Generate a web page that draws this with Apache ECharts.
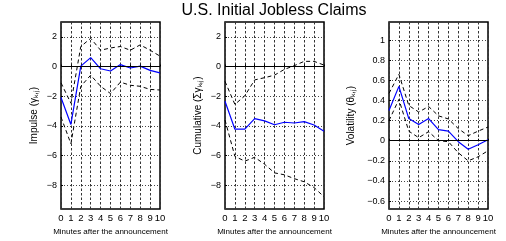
<!DOCTYPE html>
<html>
<head>
<meta charset="utf-8">
<script src="https://cdn.jsdelivr.net/npm/echarts@6/dist/echarts.min.js"></script>
<style>
  html, body { margin: 0; padding: 0; background: #fff; }
  #main { width: 506px; height: 241px; }
</style>
</head>
<body>
<div id="main"></div>
<script>
var minutes = [0, 1, 2, 3, 4, 5, 6, 7, 8, 9, 10];

// impulse response and bands
var impulse   = [-2.08, -3.9, 0.03, 0.6, -0.15, -0.3, 0.13, -0.1, 0.03, -0.26, -0.43];
var impulseUp = [-1.1, -2.47, 1.35, 1.9, 1.1, 1.25, 1.35, 1.1, 1.46, 1.1, 0.7];
var impulseLo = [-3.4, -5.2, -1.33, -0.58, -1.33, -1.82, -1.05, -1.26, -1.33, -1.54, -1.58];

// cumulative
var cumul   = [-2.34, -4.22, -4.22, -3.51, -3.66, -3.92, -3.75, -3.8, -3.71, -3.94, -4.35];
var cumulUp = [-1.0, -2.55, -1.97, -0.9, -0.75, -0.58, -0.19, 0.06, 0.35, 0.35, 0.1];
var cumulLo = [-3.6, -6.05, -6.37, -6.11, -6.58, -7.16, -7.29, -7.55, -7.76, -8.15, -8.77];

// volatility
var vol   = [0.3, 0.54, 0.22, 0.16, 0.22, 0.11, 0.095, -0.01, -0.085, -0.04, 0.01];
var volUp = [0.47, 0.66, 0.35, 0.285, 0.34, 0.247, 0.216, 0.12, 0.05, 0.095, 0.136];
var volLo = [0.2, 0.41, 0.095, 0.03, 0.09, 0.0, -0.01, -0.12, -0.2, -0.16, -0.1];

var ticksA = [-8, -6, -4, -2, 0, 2];
var ticksB = [-0.6, -0.4, -0.2, 0, 0.2, 0.4, 0.6, 0.8, 1];

var FONT = 'Liberation Sans';

function fmt(v) {
  var s = Math.abs(v) < 1e-9 ? '0' : String(Math.round(v * 10) / 10);
  return s.replace('-', '\u2212');
}

var panels = [
  { left: 61, name: 'Impulse (\u03b3\u2096,\u2c7c)', min: -9.6, max: 3, ticks: ticksA, gap: 22,
    mid: impulse, up: impulseUp, lo: impulseLo },
  { left: 225, name: 'Cumulative (\u03a3\u03b3\u2096,\u2c7c)', min: -9.6, max: 3, ticks: ticksA, gap: 22,
    mid: cumul, up: cumulUp, lo: cumulLo },
  { left: 389, name: 'Volatility (\u03b8\u2096,\u2c7c)', min: -0.68, max: 1.18, ticks: ticksB, gap: 33,
    mid: vol, up: volUp, lo: volLo }
];

var grid = [], xAxis = [], yAxis = [], series = [];

panels.forEach(function (p, i) {
  grid.push({ left: p.left, top: 22, width: 99, height: 196, show: true,
    borderColor: '#000', borderWidth: 1.5, backgroundColor: 'transparent' });
  xAxis.push({
    gridIndex: i, type: 'value', min: 0, max: 10, interval: 1,
    name: 'Minutes after the announcement', nameLocation: 'middle', nameGap: 16,
    nameTextStyle: { fontFamily: FONT, fontSize: 8, color: '#000' },
    axisLine: { show: false },
    axisTick: { show: true, inside: true, length: 2, lineStyle: { color: '#000' } },
    axisLabel: { fontFamily: FONT, fontSize: 9.5, color: '#000', margin: 4 },
    splitLine: { show: true, lineStyle: { color: '#333', type: [2.5, 2], width: 1 } }
  });
  yAxis.push({
    gridIndex: i, type: 'value', min: p.min, max: p.max,
    name: p.name, nameLocation: 'middle', nameGap: p.gap, nameRotate: 90,
    nameTextStyle: { fontFamily: FONT, fontSize: 10, color: '#000' },
    axisLine: { show: false },
    axisTick: { show: true, inside: true, length: 2, customValues: p.ticks, lineStyle: { color: '#000' } },
    axisLabel: { fontFamily: FONT, fontSize: 9, color: '#000', margin: 4,
      customValues: p.ticks, formatter: fmt },
    splitLine: { show: true, lineStyle: { color: '#444', type: [1, 2], width: 1 } }
  });
  var base = { type: 'line', xAxisIndex: i, yAxisIndex: i, symbol: 'none', silent: true, animation: false };
  series.push(Object.assign({}, base, {
    data: minutes.map(function (m, k) { return [m, p.up[k]]; }),
    lineStyle: { color: '#000', width: 1, type: [4, 3] },
    markLine: { symbol: 'none', silent: true, label: { show: false },
      lineStyle: { color: '#000', width: 1, type: 'solid' }, data: [{ yAxis: 0 }] }
  }));
  series.push(Object.assign({}, base, {
    data: minutes.map(function (m, k) { return [m, p.lo[k]]; }),
    lineStyle: { color: '#000', width: 1, type: [4, 3] }
  }));
  series.push(Object.assign({}, base, {
    data: minutes.map(function (m, k) { return [m, p.mid[k]]; }),
    lineStyle: { color: '#0000ff', width: 1.2, type: 'solid' }
  }));
});

var chart = echarts.init(document.getElementById('main'), null, { renderer: 'canvas' });
chart.setOption({
  animation: false,
  backgroundColor: '#fff',
  graphic: [{
    type: 'text', x: 274, y: 3,
    style: { text: 'U.S. Initial Jobless Claims', fontFamily: FONT, fontSize: 16,
      fill: '#000', textAlign: 'center', textVerticalAlign: 'top' }
  }],
  grid: grid,
  xAxis: xAxis,
  yAxis: yAxis,
  series: series
});
</script>
</body>
</html>
